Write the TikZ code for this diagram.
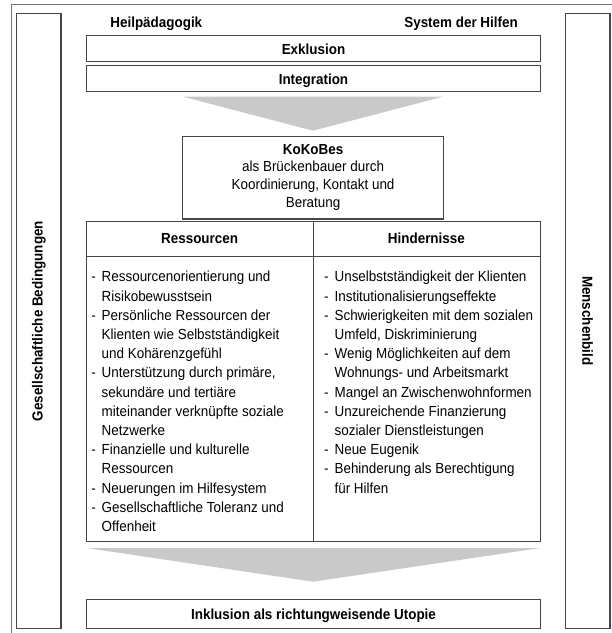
\documentclass[tikz,border=0pt]{standalone}
\usepackage{fontspec}
\setmainfont{Liberation Sans}[FakeStretch=0.92]
\usetikzlibrary{calc}
\newcommand{\itm}{\makebox[10.4pt][l]{-}}
\newcommand{\cnt}{\hspace*{10.4pt}}
\newcommand{\fl}{\rule{0pt}{12pt}}
\begin{document}
\begin{tikzpicture}[x=1pt,y=-1pt,
  outerline/.style={draw=black!55, line width=1pt},
  box/.style={draw=black!72, line width=1.2pt, fill=white, inner sep=0pt},
  wedge/.style={fill=black!21, draw=none},
  ttl/.style={font=\bfseries\fontsize{14.6}{16}\selectfont, inner sep=0pt},
  lst/.style={font=\fontsize{14.6}{19.2}\selectfont, inner sep=0pt, align=left, anchor=north west},
  kk/.style={font=\fontsize{14.6}{17.6}\selectfont, align=center, inner sep=0pt, anchor=north},
]
\useasboundingbox (0,0) rectangle (612,633);
% outer frame
\draw[outerline] (630,4.7) -| (11,650);
% side boxes
\node[box, minimum width=44.3pt, minimum height=615.4pt] (lbox) at (38.85,321) {};
\node[ttl, rotate=90] (ltext) at (lbox.center) {Gesellschaftliche Bedingungen};
\node[box, minimum width=44.7pt, minimum height=615pt] (rbox) at (587.65,320.8) {};
\node[ttl, rotate=-90] (rtext) at (rbox.center) {Menschenbild};
% top labels
\node[ttl, anchor=base west] (heil) at (110.2,27.7) {Heilpädagogik};
\node[ttl, anchor=base east] (sys) at (518,27.7) {System der Hilfen};
% Exklusion / Integration
\node[box, minimum width=453.6pt, minimum height=26pt] (exkl) at (313.5,48.7) {};
\node[ttl, anchor=base] (exklt) at (313.5,54.5) {Exklusion};
\node[box, minimum width=453.6pt, minimum height=25.6pt] (integ) at (313.5,78.5) {};
\node[ttl, anchor=base] (integt) at (313.5,84.3) {Integration};
% upper wedge
\fill[wedge] (183,96.7) -- (443,96.7) -- (313,130.7) -- cycle;
% KoKoBes
\node[box, minimum width=260.8pt, minimum height=82.3pt] (kok) at (313.1,177.85) {};
\node[kk] (kokt) at (313.1,142) {\fl\textbf{KoKoBes}\\als Brückenbauer durch\\Koordinierung, Kontakt und\\Beratung};
% table
\node[box, minimum width=453.6pt, minimum height=320pt] (tab) at (313.5,381.7) {};
\draw[draw=black!72, line width=1.2pt] ($(tab.north west)+(0,35)$) coordinate (hl) -- ($(tab.north east)+(0,35)$) coordinate (hr);
\draw[draw=black!72, line width=1.2pt] (tab.north) -- (tab.south);
\node[ttl, anchor=base] (ress) at (199.6,243.5) {Ressourcen};
\node[ttl, anchor=base] (hind) at (426.4,243.5) {Hindernisse};
\node[lst] (llist) at (91.1,269.7) {\fl\itm Ressourcenorientierung und\\
\cnt Risikobewusstsein\\
\itm Persönliche Ressourcen der\\
\cnt Klienten wie Selbstständigkeit\\
\cnt und Kohärenzgefühl\\
\itm Unterstützung durch primäre,\\
\cnt sekundäre und tertiäre\\
\cnt miteinander verknüpfte soziale\\
\cnt Netzwerke\\
\itm Finanzielle und kulturelle\\
\cnt Ressourcen\\
\itm Neuerungen im Hilfesystem\\
\itm Gesellschaftliche Toleranz und\\
\cnt Offenheit};
\node[lst] (rlist) at (324,269.7) {\fl\itm Unselbstständigkeit der Klienten\\
\itm Institutionalisierungseffekte\\
\itm Schwierigkeiten mit dem sozialen\\
\cnt Umfeld, Diskriminierung\\
\itm Wenig Möglichkeiten auf dem\\
\cnt Wohnungs- und Arbeitsmarkt\\
\itm Mangel an Zwischenwohnformen\\
\itm Unzureichende Finanzierung\\
\cnt sozialer Dienstleistungen\\
\itm Neue Eugenik\\
\itm Behinderung als Berechtigung\\
\cnt für Hilfen};
% lower wedge
\fill[wedge] (86.7,548) -- (540.3,548) -- (313,581.7) -- cycle;
% Inklusion
\node[box, minimum width=453.6pt, minimum height=28.6pt] (inkl) at (313.5,614) {};
\node[ttl, anchor=base] (inklt) at (313.5,619) {Inklusion als richtungweisende Utopie};
\end{tikzpicture}
\end{document}
